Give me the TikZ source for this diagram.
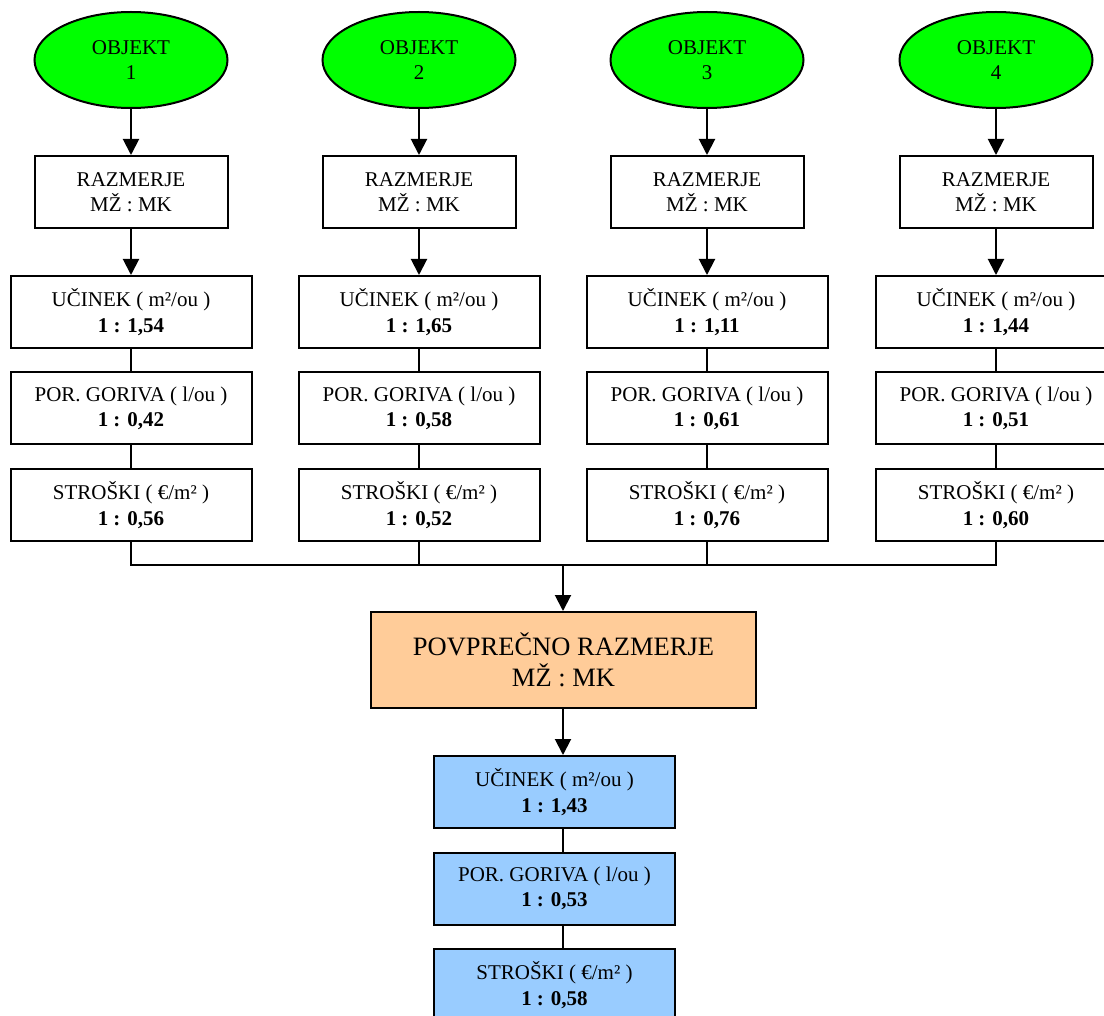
\documentclass[tikz,border=0pt]{standalone}
\usepackage{fontspec}
\setmainfont{Liberation Serif}
\usetikzlibrary{shapes.geometric,arrows.meta}
\definecolor{objgreen}{HTML}{00FF00}
\definecolor{avgorange}{HTML}{FFCC99}
\definecolor{resblue}{HTML}{99CCFF}
\tikzset{
  basefont/.style={font=\fontsize{21}{25.5}\selectfont},
  objell/.style={ellipse, draw, line width=2pt, fill=objgreen, minimum width=193pt, minimum height=96pt, inner sep=0pt, align=center, basefont},
  razbox/.style={rectangle, draw, line width=2pt, fill=white, minimum width=193pt, minimum height=72pt, inner sep=0pt, align=center, basefont},
  valbox/.style={rectangle, draw, line width=2pt, fill=white, minimum width=241pt, minimum height=72pt, inner sep=0pt, align=center, basefont},
  avgbox/.style={rectangle, draw, line width=2pt, fill=avgorange, minimum width=385pt, minimum height=96pt, inner sep=0pt, align=center, font=\fontsize{26.5}{31}\selectfont},
  resbox/.style={valbox, fill=resblue},
  arr/.style={line width=2pt, -{Triangle[length=16pt,width=16pt]}},
  lin/.style={line width=2pt}
}
\begin{document}
\begin{tikzpicture}[x=1pt,y=-1pt]
\useasboundingbox (0,0) rectangle (1104,1016);
\fill[white] (0,0) rectangle (1104,1016);
% columns
\foreach \i/\cx/\va/\vb/\vc in {1/131/{1,54}/{0,42}/{0,56}, 2/419/{1,65}/{0,58}/{0,52}, 3/707/{1,11}/{0,61}/{0,76}, 4/996/{1,44}/{0,51}/{0,60}}{
  \node[objell] (o\i) at (\cx,60) {OBJEKT\\\i};
  \node[razbox] (r\i) at (\cx,192) {RAZMERJE\\MŽ : MK};
  \node[valbox] (u\i) at (\cx,312) {UČINEK ( m²/ou )\\\textbf{1 : \va}};
  \node[valbox] (p\i) at (\cx,408.5) {POR. GORIVA ( l/ou )\\\textbf{1 : \vb}};
  \node[valbox] (s\i) at (\cx,505) {STROŠKI ( €/m² )\\\textbf{1 : \vc}};
  \draw[arr] (o\i) -- (r\i);
  \draw[arr] (r\i) -- (u\i);
  \draw[lin] (u\i) -- (p\i);
  \draw[lin] (p\i) -- (s\i);
}
\node[avgbox] (avg) at (563.5,660) {POVPREČNO RAZMERJE\\MŽ : MK};
\coordinate (bus) at (563,565);
\draw[lin] (s1.south) |- (bus);
\draw[lin] (s4.south) |- (bus);
\draw[lin] (s2.south) -- (s2.south |- bus);
\draw[lin] (s3.south) -- (s3.south |- bus);
\draw[arr] (bus) -- (bus |- avg.north);
\node[resbox] (b1) at (554.5,792) {UČINEK ( m²/ou )\\\textbf{1 : 1,43}};
\node[resbox] (b2) at (554.5,888.5) {POR. GORIVA ( l/ou )\\\textbf{1 : 0,53}};
\node[resbox] (b3) at (554.5,985) {STROŠKI ( €/m² )\\\textbf{1 : 0,58}};
\draw[arr] (bus |- avg.south) -- (bus |- b1.north);
\draw[lin] (bus |- b1.south) -- (bus |- b2.north);
\draw[lin] (bus |- b2.south) -- (bus |- b3.north);
\end{tikzpicture}
\end{document}
